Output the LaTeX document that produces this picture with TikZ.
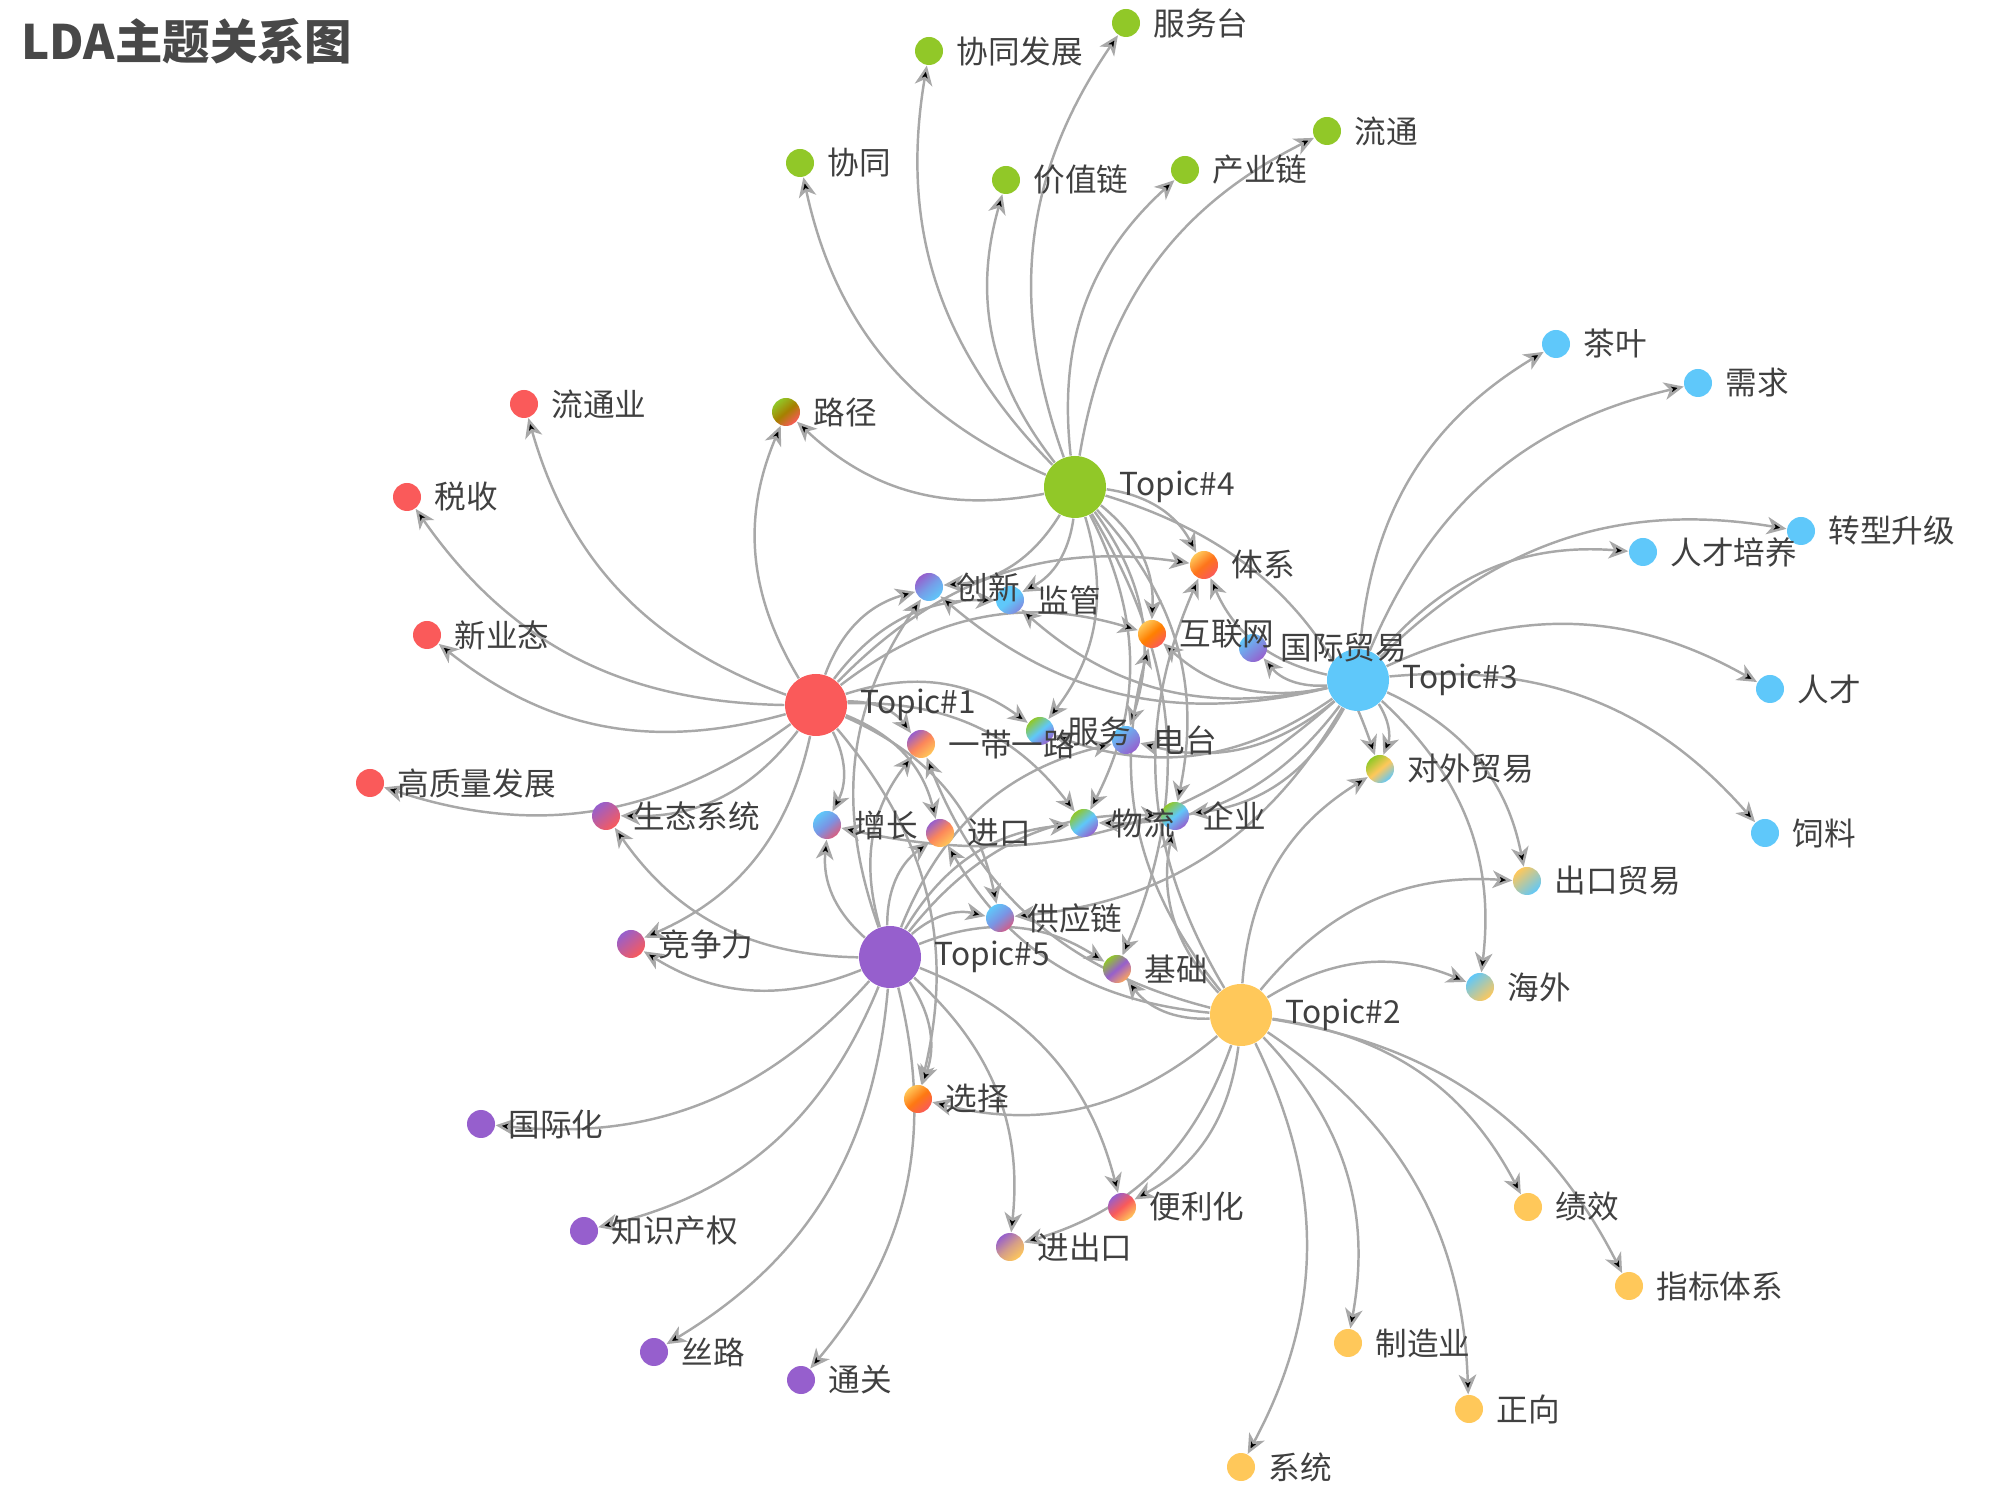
\documentclass[tikz,border=0pt]{standalone}
\usepackage{fontspec}
\setmainfont{Noto Sans CJK SC}
\usetikzlibrary{positioning,arrows.meta,backgrounds}

\definecolor{topicred}{RGB}{250,90,90}
\definecolor{topicyellow}{RGB}{255,200,90}
\definecolor{topicblue}{RGB}{95,200,250}
\definecolor{topicgreen}{RGB}{145,200,40}
\definecolor{topicpurple}{RGB}{150,95,205}
\definecolor{linkgray}{RGB}{168,168,168}
\definecolor{labelgray}{RGB}{64,64,64}
\definecolor{titlegray}{RGB}{72,72,72}

\tikzset{
  topic/.style={circle, inner sep=0pt, minimum size=6.2mm, fill=#1},
  word/.style={circle, inner sep=0pt, minimum size=2.8mm, fill=#1},
  mixword/.style n args={3}{circle, inner sep=0pt, minimum size=2.8mm,
    top color=#1, bottom color=#3, middle color=#2, shading angle=40},
  link/.style={draw=linkgray, line width=0.7pt, -{Stealth[length=5.6pt,width=5pt,inset=1.6pt]}, bend left=27},
  every label/.style={font=\fontsize{9}{10}\selectfont, text=labelgray, inner sep=1pt},
  label distance=2.5pt,
}

\begin{document}
\begin{tikzpicture}
\useasboundingbox (0,0) rectangle (20,-15.05);

\node (title) [anchor=west, text=titlegray, font=\fontsize{13.5}{15}\selectfont\bfseries] at (0.09,-0.41) {LDA主题关系图};

% topics
\node (t1) [topic=topicred, label=right:{Topic\#1}] at (8.16,-7.05) {};
\node (t2) [topic=topicyellow, label=right:{Topic\#2}] at (12.41,-10.15) {};
\node (t3) [topic=topicblue, label=right:{Topic\#3}] at (13.58,-6.80) {};
\node (t4) [topic=topicgreen, label=right:{Topic\#4}] at (10.75,-4.87) {};
\node (t5) [topic=topicpurple, label=right:{Topic\#5}] at (8.90,-9.57) {};

% topic 4 words
\node (syndev) [word=topicgreen, label=right:协同发展] at (9.29,-0.51) {};
\node (helpdesk) [word=topicgreen, label=right:服务台] at (11.26,-0.23) {};
\node (syn) [word=topicgreen, label=right:协同] at (8.00,-1.63) {};
\node (valuechain) [word=topicgreen, label=right:价值链] at (10.06,-1.80) {};
\node (indchain) [word=topicgreen, label=right:产业链] at (11.85,-1.70) {};
\node (circ) [word=topicgreen, label=right:流通] at (13.27,-1.31) {};
\node (path) [mixword={topicgreen}{olive!70!orange}{topicred}, label=right:路径] at (7.86,-4.12) {};

% topic 1 words
\node (circind) [word=topicred, label=right:流通业] at (5.24,-4.04) {};
\node (tax) [word=topicred, label=right:税收] at (4.07,-4.97) {};
\node (newbiz) [word=topicred, label=right:新业态] at (4.27,-6.35) {};
\node (hqdev) [word=topicred, label=right:高质量发展] at (3.70,-7.83) {};
\node (eco) [mixword={topicpurple}{topicpurple!50!topicred}{topicred}, label=right:生态系统] at (6.06,-8.16) {};
\node (compet) [mixword={topicpurple}{topicpurple!50!topicred}{topicred}, label=right:竞争力] at (6.31,-9.44) {};

% topic 3 words
\node (tea) [word=topicblue, label=right:茶叶] at (15.56,-3.44) {};
\node (demand) [word=topicblue, label=right:需求] at (16.98,-3.83) {};
\node (upgrade) [word=topicblue, label=right:转型升级] at (18.01,-5.31) {};
\node (training) [word=topicblue, label=right:人才培养] at (16.43,-5.52) {};
\node (talent) [word=topicblue, label=right:人才] at (17.70,-6.89) {};
\node (feed) [word=topicblue, label=right:饲料] at (17.65,-8.33) {};
\node (foreigntrade) [mixword={topicgreen}{topicyellow}{topicblue}, label=right:对外贸易] at (13.80,-7.69) {};
\node (exporttrade) [mixword={topicyellow}{topicyellow!50!topicblue}{topicblue}, label=right:出口贸易] at (15.27,-8.81) {};
\node (overseas) [mixword={topicblue}{topicblue!50!topicyellow}{topicyellow}, label=right:海外] at (14.80,-9.87) {};

% topic 2 words
\node (perf) [word=topicyellow, label=right:绩效] at (15.28,-12.07) {};
\node (indicator) [word=topicyellow, label=right:指标体系] at (16.29,-12.86) {};
\node (manuf) [word=topicyellow, label=right:制造业] at (13.48,-13.43) {};
\node (positive) [word=topicyellow, label=right:正向] at (14.69,-14.09) {};
\node (system) [word=topicyellow, label=right:系统] at (12.41,-14.67) {};
\node (facil) [mixword={topicpurple}{topicred}{topicyellow}, label=right:便利化] at (11.22,-12.07) {};
\node (impexp) [mixword={topicpurple}{topicpurple!40!topicyellow}{topicyellow}, label=right:进出口] at (10.10,-12.47) {};
\node (choice) [mixword={topicyellow}{orange!80!topicred}{topicred}, label=right:选择] at (9.18,-10.99) {};

% topic 5 words
\node (intl) [word=topicpurple, label=right:国际化] at (4.81,-11.24) {};
\node (ip) [word=topicpurple, label=right:知识产权] at (5.84,-12.31) {};
\node (silk) [word=topicpurple, label=right:丝路] at (6.54,-13.52) {};
\node (customs) [word=topicpurple, label=right:通关] at (8.01,-13.80) {};

% shared words in the middle
\node (superv) [mixword={topicblue}{topicblue}{topicpurple!60!topicblue}, label=right:监管] at (10.10,-6.00) {};
\node (innov) [mixword={topicpurple}{topicpurple!40!topicblue}{topicblue}, label=right:创新] at (9.29,-5.87) {};
\node (framework) [mixword={topicyellow}{orange!70!topicred}{topicred}, label=right:体系] at (12.04,-5.65) {};
\node (intltrade) [mixword={topicblue}{topicpurple!50!topicblue}{topicpurple}, label=right:国际贸易] at (12.53,-6.48) {};
\node (internet) [mixword={topicyellow}{orange}{topicred}, label=right:互联网] at (11.52,-6.34) {};
\node (radio) [mixword={topicblue}{topicblue!50!topicpurple}{topicpurple}, label=right:电台] at (11.26,-7.40) {};
\node (service) [mixword={topicgreen}{topicblue}{topicpurple}, label=right:服务] at (10.40,-7.31) {};
\node (beltroad) [mixword={topicpurple}{topicred!60!topicyellow}{topicyellow}, label=right:一带一路] at (9.21,-7.44) {};
\node (firm) [mixword={topicgreen}{topicblue}{topicpurple}, label=right:企业] at (11.75,-8.16) {};
\node (logistics) [mixword={topicgreen}{topicblue}{topicpurple}, label=right:物流] at (10.84,-8.23) {};
\node (growth) [mixword={topicblue}{topicblue!50!topicpurple}{topicred!70!topicpurple}, label=right:增长] at (8.27,-8.25) {};
\node (imports) [mixword={topicpurple}{topicred!60!topicyellow}{topicyellow}, label=right:进口] at (9.40,-8.33) {};
\node (supply) [mixword={topicblue}{topicblue!50!topicpurple}{topicred!60!topicpurple}, label=right:供应链] at (10.00,-9.18) {};
\node (base) [mixword={topicgreen}{topicpurple}{topicyellow!70!topicred}, label=right:基础] at (11.17,-9.69) {};

\begin{scope}[on background layer]
\draw[link] (t4) edge (syndev) edge (helpdesk) edge (syn) edge (valuechain)
  edge (indchain) edge (circ) edge (path) edge (framework) edge (internet)
  edge (innov) edge (superv) edge (service) edge (radio) edge (logistics)
  edge (firm) edge (base) edge (foreigntrade);
\draw[link] (t1) edge (circind) edge (tax) edge (newbiz) edge (hqdev) edge (eco)
  edge (compet) edge (path) edge (innov) edge (superv) edge (framework)
  edge (internet) edge (beltroad) edge (service) edge (growth) edge (imports)
  edge (logistics) edge (supply) edge (choice);
\draw[link] (t3) edge (tea) edge (demand) edge (upgrade) edge (training)
  edge (talent) edge (feed) edge (intltrade) edge (foreigntrade)
  edge (exporttrade) edge (overseas) edge (framework) edge (internet)
  edge (innov) edge (superv) edge (service) edge (radio) edge (logistics)
  edge (firm) edge (growth) edge (supply);
\draw[link] (t5) edge (intl) edge (ip) edge (silk) edge (customs) edge (compet)
  edge (eco) edge (choice) edge (facil) edge (impexp) edge (growth)
  edge (imports) edge (supply) edge (base) edge (beltroad) edge (innov)
  edge (logistics) edge (radio) edge (firm);
\draw[link] (t2) edge (perf) edge (indicator) edge (manuf) edge (positive)
  edge (system) edge (facil) edge (impexp) edge (choice) edge (base)
  edge (overseas) edge (exporttrade) edge (foreigntrade) edge (imports)
  edge (beltroad) edge (framework) edge (internet) edge (firm);
\end{scope}
\end{tikzpicture}
\end{document}
